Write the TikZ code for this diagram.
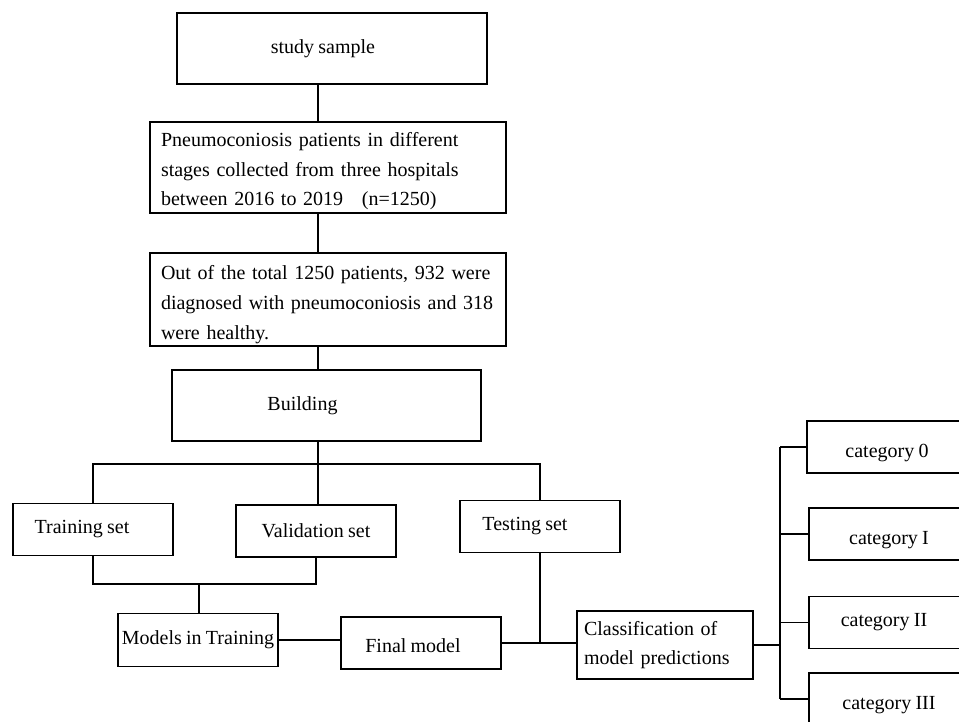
\documentclass[tikz,border=0pt]{standalone}
\usepackage{fontspec}
\setmainfont{Liberation Serif}[WordSpace=0.85]
\usepackage{tikz}

\begin{document}
\begin{tikzpicture}[x=1pt,y=-1pt,line width=1.3pt,
  box/.style={draw, rectangle, inner sep=0pt, font=\fontsize{20}{29.5}\selectfont},
  wide/.style={box, minimum width=356pt, inner xsep=11pt, text width=334pt, align=left},
  small/.style={box, minimum width=160pt, minimum height=52pt},
  catbox/.style={small, text height=25pt, text depth=4pt}]

\clip (0,0) rectangle (959,722);
\fill[white] (0,0) rectangle (959,722);

% define the boxes of the main column
  \node[box, minimum width=310pt, minimum height=71pt] (sample) at (332,48.5) {study sample\hspace*{18pt}};
  \node[wide, minimum height=91pt] (patients) at (328,167.5)
{\rule{0pt}{22pt}Pneumoconiosis patients in different\\
stages collected from three hospitals\\
between 2016 to 2019 \hspace{12pt}(n=1250)};
  \node[wide, minimum height=93pt, font=\fontsize{20}{30}\selectfont] (healthy) at (328,299.5)
{\rule{0pt}{25pt}Out of the total 1250 patients, 932 were\\
diagnosed with pneumoconiosis and 318\\
were healthy.};
  \node[box, minimum width=309pt, minimum height=71pt] (building) at (326.5,405.5) {Building\hspace*{48pt}};

% define the sets and the models
  \node[small] (train) at (93,529.5) {Training set\hspace*{22pt}};
  \node[small] (valid) at (316,531) {Validation set};
  \node[small] (test)  at (540,526.5) {Testing set\hspace*{30pt}};
  \node[small, minimum height=53pt] (models) at (198,640) {Models in Training};
  \node[small, text height=22pt, text depth=4pt] (final) at (421,643) {Final model\hspace*{16pt}};
  \node[box, minimum width=176pt, minimum height=68pt, inner xsep=7pt, text width=162pt, align=left] (classif) at (665,645)
{Classification of\\
model predictions};

% define the categories
  \node[catbox] (cat0)   at (887,447) {category 0};
  \node[catbox] (cat1)   at (889,534) {category I};
  \node[small]  (cat2)   at (889,622.5) {category II\hspace*{10pt}};
  \node[catbox] (cat3)   at (889,699) {category III};

% define the joints
  \coordinate (trunk) at (318,0);
  \coordinate (split) at (318,464);
  \coordinate (join)  at (199,584);
  \coordinate (bus)   at (780,646);

% define the links
  \draw (sample.south -| trunk) -- (patients.north -| trunk);
  \draw (patients.south -| trunk) -- (healthy.north -| trunk);
  \draw (healthy.south -| trunk) -- (building.north -| trunk);
  \draw (building.south -| trunk) -- (valid.north -| trunk);
  \draw (train.north) |- (split) -| (test.north);
  \draw (train.south) |- (join) -| (valid.south);
  \draw (join) -- (join |- models.north);
  \draw (models.east) -- (models.east -| final.west);
  \draw (final.east) -- (final.east -| classif.west);
  \draw (test.south) -- (test.south |- final.east);
  \draw (classif.east) -- (classif.east -| bus);
  \draw (cat0.west -| bus) -- (cat3.west -| bus);
  \foreach \c in {cat0,cat1,cat2,cat3}
    \draw (\c.west) -- (\c.west -| bus);

\end{tikzpicture}
\end{document}
